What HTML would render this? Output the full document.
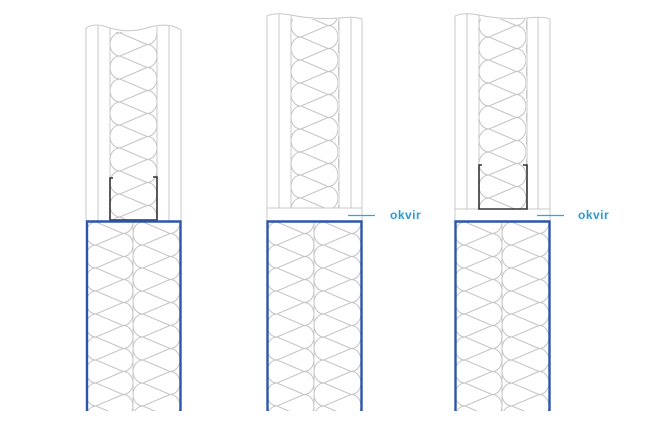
<!DOCTYPE html>
<html><head><meta charset="utf-8"><style>
html,body{margin:0;padding:0;background:#fff;}
svg{display:block;}
</style></head><body>
<svg width="650" height="431" viewBox="0 0 650 431" xmlns="http://www.w3.org/2000/svg">
<defs>
<pattern id="ins" patternUnits="userSpaceOnUse" width="47" height="23">
<g fill="none" stroke="#c4c4c4" stroke-width="1">
<path d="M10,-23 A10,11.5 0 0 0 10,0 M10,-23 L37,-11.5 M10,0 L37,-11.5 M37,-11.5 A10,11.5 0 0 1 37,11.5 M10,0 A10,11.5 0 0 0 10,23 M10,0 L37,11.5 M10,23 L37,11.5 M37,11.5 A10,11.5 0 0 1 37,34.5"/>
</g>
</pattern>
</defs>
<g fill="none" stroke="#c8c8c8" stroke-width="1">
<path d="M86,28 Q95,22 110,28 Q130,34 150,27 Q170,22 181,30"/>
<line x1="86" y1="28" x2="86" y2="221"/>
<line x1="98" y1="25" x2="98" y2="221"/>
<line x1="110" y1="28" x2="110" y2="221"/>
<line x1="157" y1="27" x2="157" y2="221"/>
<line x1="169" y1="26" x2="169" y2="221"/>
<line x1="181" y1="30" x2="181" y2="221"/>
<path d="M267,16 Q275,12 291,15 Q315,20 339,18 Q355,16 362,19"/>
<line x1="267" y1="16" x2="267" y2="221"/>
<line x1="279" y1="14" x2="279" y2="208"/>
<line x1="291" y1="15" x2="291" y2="208"/>
<line x1="339" y1="18" x2="339" y2="208"/>
<line x1="351" y1="17" x2="351" y2="208"/>
<line x1="362" y1="19" x2="362" y2="221"/>
<line x1="267" y1="208" x2="362" y2="208"/>
<path d="M455,16 Q463,12 479,15 Q503,20 527,18 Q543,16 550,19"/>
<line x1="455" y1="16" x2="455" y2="221"/>
<line x1="467" y1="14" x2="467" y2="209"/>
<line x1="479" y1="15" x2="479" y2="209"/>
<line x1="527" y1="18" x2="527" y2="209"/>
<line x1="538" y1="17" x2="538" y2="209"/>
<line x1="550" y1="19" x2="550" y2="221"/>
<line x1="455" y1="209" x2="550" y2="209"/>
<line x1="133" y1="221" x2="133" y2="411"/>
<line x1="314" y1="221" x2="314" y2="411"/>
<line x1="502" y1="221" x2="502" y2="411"/>
</g>
<g transform="translate(110,10)"><rect x="0" y="22" width="47" height="188" fill="url(#ins)"/></g>
<g transform="translate(291,14)"><rect x="0" y="5" width="48" height="189" fill="url(#ins)"/></g>
<g transform="translate(479,14)"><rect x="0" y="5" width="48" height="190" fill="url(#ins)"/></g>
<g transform="translate(86,222)"><rect width="47" height="189" fill="url(#ins)"/></g>
<g transform="translate(133,222)"><rect width="48" height="189" fill="url(#ins)"/></g>
<g transform="translate(267,222)"><rect width="47" height="189" fill="url(#ins)"/></g>
<g transform="translate(314,222)"><rect width="48" height="189" fill="url(#ins)"/></g>
<g transform="translate(455,222)"><rect width="47" height="189" fill="url(#ins)"/></g>
<g transform="translate(502,222)"><rect width="48" height="189" fill="url(#ins)"/></g>
<path d="M113,178 L110,178 L110,220 L157,220 L157,177 L153,177" fill="none" stroke="#333" stroke-width="1.6"/>
<path d="M482,165 L479,165 L479,209 L527,209 L527,165 L523,165" fill="none" stroke="#333" stroke-width="1.6"/>
<g fill="none" stroke="#2d56aa" stroke-width="2.4">
<path d="M87,411 L87,221.5 L180.5,221.5 L180.5,411"/>
<path d="M267.5,411 L267.5,221.5 L361.5,221.5 L361.5,411"/>
<path d="M455.5,411 L455.5,221.5 L549.5,221.5 L549.5,411"/>
</g>
<line x1="348" y1="215.5" x2="375" y2="215.5" stroke="#29a8e6" stroke-width="1.3"/>
<line x1="537" y1="215.5" x2="564" y2="215.5" stroke="#29a8e6" stroke-width="1.3"/>
<g font-family="Liberation Sans, sans-serif" font-size="12" font-weight="bold" fill="#2a9ad8" letter-spacing="0.5">
<text x="390" y="219">okvir</text>
<text x="578" y="219">okvir</text>
</g>
</svg>
</body></html>
